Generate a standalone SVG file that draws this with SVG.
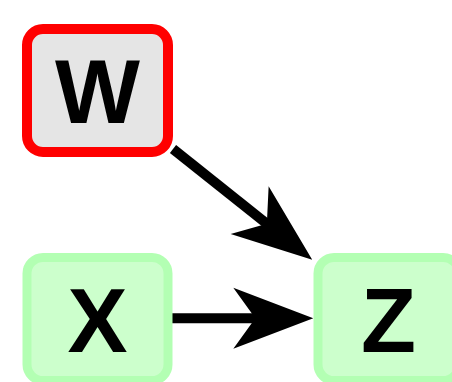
<svg xmlns="http://www.w3.org/2000/svg" width="452" height="382" viewBox="0 0 452 382">
<style>
.node rect{stroke-width:9}
.green rect{fill:#ccffcc;stroke:#b3ffb3}
.red rect{fill:#e5e5e5;stroke:#ff0000;stroke-width:10}
.node text{font-family:"Liberation Sans",Arial,sans-serif;font-weight:bold;font-size:90px;fill:#000;text-anchor:middle}
.edge{stroke:#000;stroke-width:10;fill:none;marker-end:url(#ah)}
</style>
<defs>
<marker id="ah" markerUnits="userSpaceOnUse" orient="auto" refX="0" refY="0" markerWidth="200" markerHeight="200" viewBox="-100 -100 200 200" overflow="visible">
<path d="M55,0 L-25,-30.5 L-3,0 L-25,30.5 Z" fill="#000"/>
</marker>
</defs>
<g id="connectors">
<path class="edge" d="M173,149 L269.2,225.6"/>
<path class="edge" d="M171.7,318.3 L258.3,318.3"/>
</g>
<g id="W" class="node red">
<rect x="27" y="29" width="141" height="123" rx="16"/>
<text x="97.5" y="123">W</text>
</g>
<g id="X" class="node green">
<rect x="27" y="257.5" width="141" height="123" rx="16"/>
<text x="97.5" y="351.7">X</text>
</g>
<g id="Z" class="node green">
<rect x="318" y="257.5" width="141" height="123" rx="16"/>
<text x="388.5" y="351.7">Z</text>
</g>
</svg>
